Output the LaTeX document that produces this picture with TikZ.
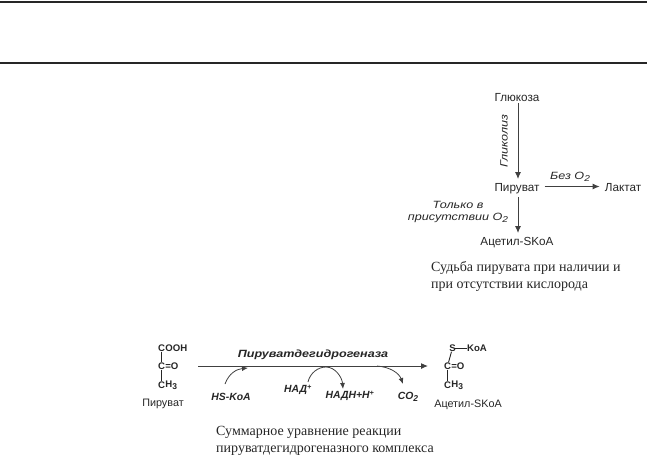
\documentclass[tikz,border=0pt]{standalone}
\usepackage{fontspec}
\setmainfont{Liberation Sans}
\newfontfamily\serifcap{Liberation Serif}
\newfontfamily\widecap[FakeStretch=1.2]{Liberation Sans}
\usetikzlibrary{calc, arrows.meta}
\definecolor{arrowgray}{HTML}{404040}
\definecolor{textgray}{HTML}{262626}
\newcommand{\lowidx}[1]{\raisebox{-2pt}{\fontsize{8.5}{9}\selectfont #1}}

\tikzset{
    metabolite/.style={inner sep=1pt, font=\fontsize{11.7}{12}\selectfont, text=textgray},
    smallname/.style={inner sep=1pt, font=\fontsize{10.8}{12}\selectfont, text=textgray},
    atom/.style={inner xsep=0pt, inner ysep=0.6pt, font=\fontsize{9.6}{10}\selectfont\bfseries, text=textgray},
    widelabel/.style={inner sep=1pt, font=\fontsize{10.5}{12}\selectfont\widecap\itshape, text=textgray, align=center},
    cofactor/.style={inner sep=1pt, font=\fontsize{10.4}{11}\selectfont\bfseries\itshape, text=textgray},
    captext/.style={inner sep=0pt, anchor=west, font=\fontsize{14}{17}\selectfont\serifcap, text=textgray, align=left},
    flow/.style={line width=1pt, arrowgray, ->, >={Latex[length=7pt,width=6pt]}},
    bond/.style={line width=0.9pt, textgray, shorten >=-0.5pt, shorten <=-0.5pt},
    curvearrow/.style={line width=0.8pt, arrowgray, ->, >={Latex[length=6pt,width=5pt]}}
}

\begin{document}
\begin{tikzpicture}[x=1pt, y=-1pt]
    \useasboundingbox (0,0) rectangle (647,456);

    % page rules
    \coordinate (ruleAleft) at (0,2);
    \coordinate (ruleAright) at (647,2);
    \coordinate (ruleBleft) at (0,63);
    \coordinate (ruleBright) at (647,63);
    \draw[line width=1.6pt, black!85] (ruleAleft) -- (ruleAright);
    \draw[line width=1.6pt, black!85] (ruleBleft) -- (ruleBright);

    % fate of pyruvate
    \node[metabolite] (glucose) at (517,98) {Глюкоза};
    \node[metabolite] (pyruvate) at (517,188.5) {Пируват};
    \node[metabolite] (lactate) at (623,188) {Лактат};
    \node[metabolite] (acetyl) at (517,242.5) {Ацетил-SKoA};

    \draw[flow] ($(glucose.south)+(1,0)$) -- ($(pyruvate.north)+(1,-3)$);
    \draw[flow] ($(pyruvate.east)+(4,-2)$) -- ($(lactate.west)+(-4,-1.5)$);
    \draw[flow] ($(pyruvate.south)+(1,2)$) -- ($(acetyl.north)+(1,-3)$);

    \node[widelabel, rotate=90] (glycolysis) at (504,141) {Гликолиз};
    \node[widelabel] (noair) at (570,177) {Без O\lowidx{2}};
    \node[widelabel] (withair) at (458,211.5) {Только в\\присутствии O\lowidx{2}};

    \node[captext] (fatecap) at (431,276) {Судьба пирувата при наличии и\\при отсутствии кислорода};

    % overall reaction, left side
    \node[atom] (leftc) at (161.5,348) {C};
    \node[atom, anchor=west] (leftooh) at (leftc.east) {OOH};
    \node[atom] (leftmid) at (161.5,366) {C};
    \node[atom, anchor=west] (lefto) at (leftmid.east) {=O};
    \node[atom] (leftme) at (161.5,385) {C};
    \node[atom, anchor=west] (lefth) at (leftme.east) {H\lowidx{3}};
    \draw[bond] (leftc) -- (leftmid);
    \draw[bond] (leftmid) -- (leftme);
    \node[smallname] (pyruvateB) at (163,403.5) {Пируват};

    % overall reaction, right side
    \node[atom] (rights) at (452.5,348) {S};
    \node[atom] (rightkoa) at (477,348) {KoA};
    \node[atom] (rightmid) at (447.5,366) {C};
    \node[atom, anchor=west] (righto) at (rightmid.east) {=O};
    \node[atom] (rightme) at (447.5,385) {C};
    \node[atom, anchor=west] (righth) at (rightme.east) {H\lowidx{3}};
    \draw[bond] (rights) -- (rightkoa);
    \draw[bond] (rights) -- (rightmid);
    \draw[bond] (rightmid) -- (rightme);
    \node[smallname] (acetylB) at (468,404.5) {Ацетил-SKoA};

    % main arrow
    \coordinate (mainstart) at (198,366);
    \coordinate (mainend) at (428,366);
    \draw[flow] (mainstart) -- (mainend);
    \node[inner sep=1pt, font=\fontsize{10.5}{11}\selectfont\widecap\bfseries\itshape, text=textgray] (enzyme) at (313,355) {Пируватдегидрогеназа};

    \node[cofactor] (hskoa) at (231,397) {HS-KoA};
    \node[cofactor] (nad) at (298,390) {НАД\textsuperscript{+}};
    \node[cofactor] (nadh) at (350,396) {НАДН+Н\textsuperscript{+}};
    \node[cofactor] (cotwo) at (408,397) {CO\lowidx{2}};

    \coordinate (hsstart) at (225,384);
    \coordinate (hsend) at (248,368);
    \coordinate (nadstart) at (308,382);
    \coordinate (nadtop) at (326,367);
    \coordinate (nadhend) at (343,389);
    \coordinate (cotwostart) at (377,366);
    \coordinate (cotwoend) at (403,384);
    \draw[curvearrow] (hsstart) .. controls (229,373) and (237,369) .. (hsend);
    \draw[curvearrow] (nadstart) .. controls (310,373) and (318,367) .. (nadtop) .. controls (335,367) and (342,377) .. (nadhend);
    \draw[curvearrow] (cotwostart) .. controls (390,367) and (399,373) .. (cotwoend);

    \node[captext] (sumcap) at (216,440.5) {Суммарное уравнение реакции\\пируватдегидрогеназного комплекса};
\end{tikzpicture}
\end{document}
